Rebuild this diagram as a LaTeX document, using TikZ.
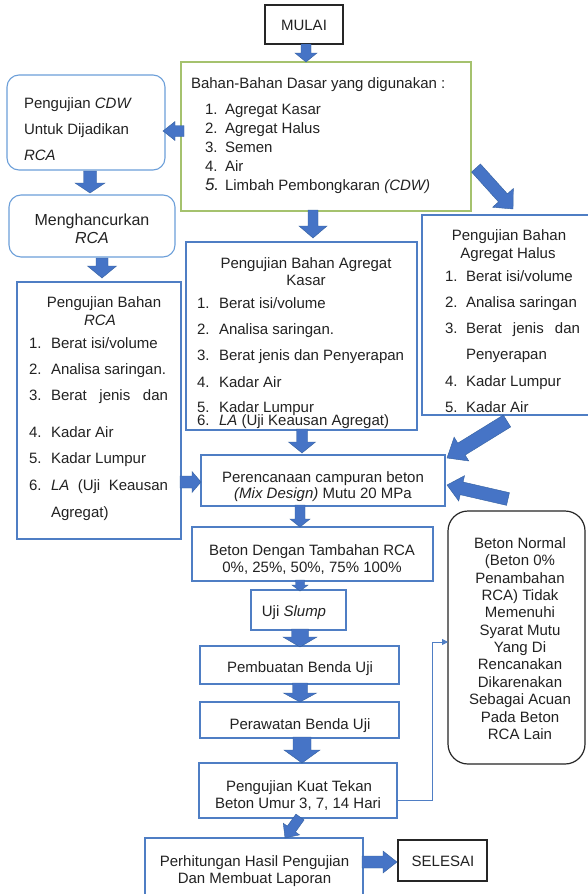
\documentclass[tikz,border=0pt]{standalone}
\usepackage{fontspec}
\setmainfont{Liberation Sans}
\usetikzlibrary{calc,arrows.meta}
\definecolor{bxblue}{HTML}{4F7EC4}
\definecolor{rdblue}{HTML}{6C9FD9}
\definecolor{grnbd}{HTML}{A5C26E}
\definecolor{arfill}{HTML}{4674C6}
\definecolor{aredge}{HTML}{34609F}
\definecolor{txtc}{HTML}{222222}
\newcommand\blkarrow[5]{%
  \coordinate (ba1) at #1;
  \coordinate (ba2) at #2;
  \coordinate (bah) at ($(ba2)!#5!(ba1)$);
  \filldraw[blockarrow] ($(ba1)!#3!90:(ba2)$) -- ($(bah)!#3!90:(ba2)$) -- ($(bah)!#4!90:(ba2)$) -- (ba2) -- ($(bah)!#4!-90:(ba2)$) -- ($(bah)!#3!-90:(ba2)$) -- ($(ba1)!#3!-90:(ba2)$) -- cycle;}
\tikzset{
 sbox/.style={draw=bxblue, line width=1.1pt, inner sep=0pt, outer sep=0pt, fill=white},
 rbox/.style={sbox, draw=rdblue, rounded corners=12pt},
 kbox/.style={sbox, draw=black!85, line width=1.2pt},
 gbox/.style={sbox, draw=grnbd},
 tl/.style={font=\fontsize{15}{17.4}\selectfont, text=txtc, inner sep=0pt, outer sep=0pt},
 tlb/.style={tl, font=\fontsize{16}{18}\selectfont},
 blockarrow/.style={fill=arfill, draw=aredge, line width=0.4pt},
 conn/.style={draw=bxblue, line width=0.8pt, -{Triangle[width=6pt,length=6pt]}}
}
\begin{document}
\begin{tikzpicture}[x=1pt,y=-1pt]
\fill[white] (0,0) rectangle (587,894);
\useasboundingbox (0,0) rectangle (587,894);
% boxes
\node[kbox, minimum width=78pt, minimum height=39pt] (mulai) at (304,24.5) {};
\node[gbox, minimum width=290pt, minimum height=149pt] (bahan) at (326,136.5) {};
\node[rbox, minimum width=158pt, minimum height=95pt] (left1) at (86,122.5) {};
\node[rbox, minimum width=166pt, minimum height=62pt] (mencr) at (92,226) {};
\node[sbox, minimum width=164pt, minimum height=257pt] (rca) at (99,410.5) {};
\node[sbox, minimum width=231pt, minimum height=188pt] (kasar) at (301.5,336) {};
\node[sbox, minimum width=170pt, minimum height=200pt] (halus) at (507,315) {};
\node[sbox, minimum width=244pt, minimum height=51pt] (perenc) at (323,480.5) {};
\node[sbox, minimum width=241pt, minimum height=54pt] (beton) at (312.5,554) {};
\node[sbox, minimum width=95pt, minimum height=40pt] (slump) at (298.5,610) {};
\node[sbox, minimum width=199pt, minimum height=38pt] (pemb) at (299.5,665) {};
\node[sbox, minimum width=199pt, minimum height=36pt] (peraw) at (299.5,720) {};
\node[sbox, minimum width=198pt, minimum height=55pt] (kuat) at (298,790.5) {};
\node[sbox, minimum width=218pt, minimum height=58pt] (perh) at (254,867) {};
\node[kbox, minimum width=89pt, minimum height=41pt] (selesai) at (442.5,860.5) {};
\node[kbox, rounded corners=20pt, minimum width=137pt, minimum height=253pt] (normal) at (516.5,637.5) {};
% texts
\node[tl,anchor=base] (tmulai) at (304,30) {MULAI};
\node[tl,anchor=base west] (b0) at (191,88) {Bahan-Bahan Dasar yang digunakan :};
\node[tl,anchor=base west] (b1n) at (205,114) {1.};
\node[tl,anchor=base west] (b1) at (225,114) {Agregat Kasar};
\node[tl,anchor=base west] (b2n) at (205,133) {2.};
\node[tl,anchor=base west] (b2) at (225,133) {Agregat Halus};
\node[tl,anchor=base west] (b3n) at (205,152) {3.};
\node[tl,anchor=base west] (b3) at (225,152) {Semen};
\node[tl,anchor=base west] (b4n) at (205,171) {4.};
\node[tl,anchor=base west] (b4) at (225,171) {Air};
\node[tl,anchor=base west] (b5n) at (205,190) {\textit{\fontsize{17}{17}\selectfont 5.}};
\node[tl,anchor=base west] (b5) at (225,190) {Limbah Pembongkaran \textit{(CDW)}};
\node[tl,anchor=base west] (l1a) at (24,108) {Pengujian \textit{CDW}};
\node[tl,anchor=base west] (l1b) at (24,134) {Untuk Dijadikan};
\node[tl,anchor=base west] (l1c) at (24,160) {\textit{RCA}};
\node[tlb,anchor=base] (m1) at (92,225.5) {Menghancurkan};
\node[tlb,anchor=base] (m2) at (92,243.5) {\textit{RCA}};
% rca list
\node[tl,anchor=base] (r0a) at (104,307) {Pengujian Bahan};
\node[tl,anchor=base] (r0b) at (100,325) {\textit{RCA}};
\node[tl,anchor=base west] (r1n) at (29,348) {1.};
\node[tl,anchor=base west] (r1) at (51,348) {Berat isi/volume};
\node[tl,anchor=base west] (r2n) at (29,374) {2.};
\node[tl,anchor=base west] (r2) at (51,374) {Analisa saringan.};
\node[tl,anchor=base west] (r3n) at (29,400) {3.};
\node[tl,anchor=base west] (r3) at (51,400) {\hbox to 117pt{Berat\hfill jenis\hfill dan}};
\node[tl,anchor=base west] (r4n) at (29,437) {4.};
\node[tl,anchor=base west] (r4) at (51,437) {Kadar Air};
\node[tl,anchor=base west] (r5n) at (29,463) {5.};
\node[tl,anchor=base west] (r5) at (51,463) {Kadar Lumpur};
\node[tl,anchor=base west] (r6n) at (29,490) {6.};
\node[tl,anchor=base west] (r6) at (51,490) {\hbox to 117pt{\textit{LA}\hfill (Uji\hfill Keausan}};
\node[tl,anchor=base west] (r6b) at (51,517) {Agregat)};
% kasar list
\node[tl,anchor=base] (k0a) at (306,268) {Pengujian Bahan Agregat};
\node[tl,anchor=base] (k0b) at (306,285) {Kasar};
\node[tl,anchor=base west] (k1n) at (197,308) {1.};
\node[tl,anchor=base west] (k1) at (219,308) {Berat isi/volume};
\node[tl,anchor=base west] (k2n) at (197,334) {2.};
\node[tl,anchor=base west] (k2) at (219,334) {Analisa saringan.};
\node[tl,anchor=base west] (k3n) at (197,360) {3.};
\node[tl,anchor=base west] (k3) at (219,360) {Berat jenis dan Penyerapan};
\node[tl,anchor=base west] (k4n) at (197,387) {4.};
\node[tl,anchor=base west] (k4) at (219,387) {Kadar Air};
\node[tl,anchor=base west] (k5n) at (197,412) {5.};
\node[tl,anchor=base west] (k5) at (219,412) {Kadar Lumpur};
\node[tl,anchor=base west] (k6n) at (197,425) {6.};
\node[tl,anchor=base west] (k6) at (219,425) {\textit{LA} (Uji Keausan Agregat)};
% halus list
\node[tl,anchor=base] (h0a) at (509,240) {Pengujian Bahan};
\node[tl,anchor=base] (h0b) at (508,258) {Agregat Halus};
\node[tl,anchor=base west] (h1n) at (445,281) {1.};
\node[tl,anchor=base west] (h1) at (466,281) {Berat isi/volume};
\node[tl,anchor=base west] (h2n) at (445,307) {2.};
\node[tl,anchor=base west] (h2) at (466,307) {Analisa saringan};
\node[tl,anchor=base west] (h3n) at (445,333) {3.};
\node[tl,anchor=base west] (h3) at (466,333) {\hbox to 114pt{Berat\hfill jenis\hfill dan}};
\node[tl,anchor=base west] (h3b) at (466,359) {Penyerapan};
\node[tl,anchor=base west] (h4n) at (445,386) {4.};
\node[tl,anchor=base west] (h4) at (466,386) {Kadar Lumpur};
\node[tl,anchor=base west] (h5n) at (445,412) {5.};
\node[tl,anchor=base west] (h5) at (466,412) {Kadar Air};
% flow texts
\node[tl,anchor=base] (p1) at (323,482) {Perencanaan campuran beton};
\node[tl,anchor=base] (p2) at (323,498) {\textit{(Mix Design)} Mutu 20 MPa};
\node[tl,anchor=base] (bt1) at (312,555) {Beton Dengan Tambahan RCA};
\node[tl,anchor=base] (bt2) at (312,572) {0\%, 25\%, 50\%, 75\% 100\%};
\node[tl,anchor=base] (ts) at (294,616) {Uji \textit{Slump}};
\node[tl,anchor=base] (tpb) at (300,672) {Pembuatan Benda Uji};
\node[tl,anchor=base] (tpr) at (300,729) {Perawatan Benda Uji};
\node[tl,anchor=base] (tk1) at (299,791) {Pengujian Kuat Tekan};
\node[tl,anchor=base] (tk2) at (298,808) {Beton Umur 3, 7, 14 Hari};
\node[tl,anchor=base] (th1) at (254.5,866) {Perhitungan Hasil Pengujian};
\node[tl,anchor=base] (th2) at (254.5,883) {Dan Membuat Laporan};
\node[tl,anchor=base] (tsel) at (443,866) {SELESAI};
% normal box text
\node[tl,anchor=base] (n1) at (520,548.4) {Beton Normal};
\node[tl,anchor=base] (n2) at (520,565.8) {(Beton 0\%};
\node[tl,anchor=base] (n3) at (520,583.1) {Penambahan};
\node[tl,anchor=base] (n4) at (520,600.5) {RCA) Tidak};
\node[tl,anchor=base] (n5) at (520,617.8) {Memenuhi};
\node[tl,anchor=base] (n6) at (520,635.2) {Syarat Mutu};
\node[tl,anchor=base] (n7) at (520,652.6) {Yang Di};
\node[tl,anchor=base] (n8) at (520,669.9) {Rencanakan};
\node[tl,anchor=base] (n9) at (520,687.3) {Dikarenakan};
\node[tl,anchor=base] (n10) at (520,704.6) {Sebagai Acuan};
\node[tl,anchor=base] (n11) at (520,722.0) {Pada Beton};
\node[tl,anchor=base] (n12) at (520,739.4) {RCA Lain};
% block arrows
\blkarrow{($(mulai.south)+(2,0)$)}{($(bahan.north)+(-20,0)$)}{5pt}{11pt}{9pt}
\blkarrow{($(bahan.west)+(3,-5.5)$)}{($(left1.east)+(-2,8.5)$)}{5.5pt}{9.5pt}{12pt}
\blkarrow{($(left1.south)+(4,1)$)}{($(mencr.north)+(-2,-2)$)}{6.5pt}{15pt}{10pt}
\blkarrow{($(mencr.south)+(10,1)$)}{($(rca.north)+(3,-4)$)}{6pt}{14.5pt}{12pt}
\blkarrow{($(bahan.south)+(-13,-1)$)}{($(kasar.north)+(11.5,-4)$)}{5pt}{14pt}{12pt}
\blkarrow{($(bahan.east)+(5,31.5)$)}{($(halus.north)+(6,-6)$)}{6pt}{14pt}{15pt}
\blkarrow{($(kasar.south)+(0.5,-1)$)}{($(perenc.north)+(-21,-2)$)}{5.5pt}{13.5pt}{11pt}
\blkarrow{($(rca.east)+(-1,71.5)$)}{($(perenc.west)+(0,1.5)$)}{6pt}{10.5pt}{9pt}
\blkarrow{($(halus.south)+(0,6)$)}{($(perenc.east)+(2,-22.5)$)}{7pt}{14pt}{17pt}
\blkarrow{($(perenc.east)+(63,18.5)$)}{($(perenc.east)+(2,4.5)$)}{6.5pt}{13pt}{15pt}
\blkarrow{($(perenc.south)+(-23,-1)$)}{($(beton.north)+(-12.5,0)$)}{5pt}{10pt}{8pt}
\blkarrow{($(beton.south)+(-12.5,-1)$)}{($(slump.north)+(1.5,1)$)}{4.5pt}{8pt}{6pt}
\blkarrow{($(slump.south)+(1.5,-1)$)}{($(pemb.north)+(0.5,1)$)}{8.5pt}{17pt}{10pt}
\blkarrow{($(pemb.south)+(0.5,-1)$)}{($(peraw.north)+(0.5,0)$)}{7.5pt}{16.5pt}{9pt}
\blkarrow{($(peraw.south)+(2.5,-1)$)}{($(kuat.north)+(4,0)$)}{9pt}{18pt}{13pt}
\blkarrow{($(kuat.south)+(2,-1)$)}{($(perh.north)+(31,0)$)}{5pt}{10pt}{11pt}
\blkarrow{($(perh.east)+(-1,-5)$)}{($(selesai.west)+(-1,1.5)$)}{6pt}{11pt}{14pt}
% thin connector
\draw[conn] ($(kuat.east)+(0,9.5)$) -- ++(35,0) |- ($(normal.west)+(0,4.5)$);
\end{tikzpicture}
\end{document}
